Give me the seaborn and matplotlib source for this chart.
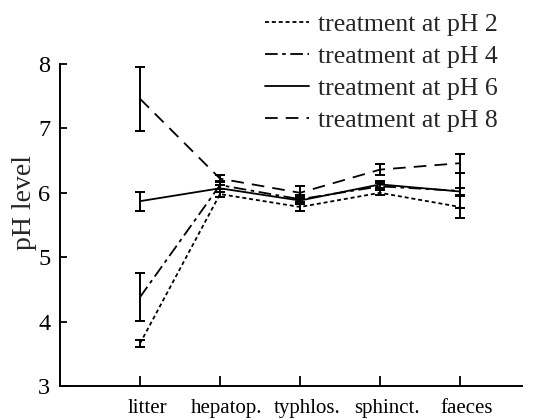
import numpy as np
import pandas as pd
import matplotlib
matplotlib.use("Agg")
import matplotlib.pyplot as plt
import matplotlib.transforms as mtransforms
import seaborn as sns

categories = ["litter", "hepatop.", "typhlos.", "sphinct.", "faeces"]
treatments = ["treatment at pH 2", "treatment at pH 4", "treatment at pH 6", "treatment at pH 8"]

ph2 = [3.66, 5.98, 5.78, 6.00, 5.78]
err2 = [0.05, 0.04, 0.07, 0.04, 0.17]
ph4 = [4.38, 6.12, 5.90, 6.10, 6.03]
err4 = [0.37, 0.06, 0.06, 0.05, 0.27]
ph6 = [5.87, 6.07, 5.88, 6.13, 6.02]
err6 = [0.15, 0.05, 0.05, 0.06, 0.05]
ph8 = [7.46, 6.22, 6.00, 6.36, 6.46]
err8 = [0.50, 0.05, 0.10, 0.08, 0.15]

yticks = [3, 4, 5, 6, 7, 8]

means = [ph2, ph4, ph6, ph8]
errs = [err2, err4, err6, err8]

rows = []
for t, m, e in zip(treatments, means, errs):
    for i, (c, v, ee) in enumerate(zip(categories, m, e)):
        rows.append({"pos": i, "organ": c, "treatment": t, "value": v, "err": ee})
df = pd.DataFrame(rows)

sns.set_style("ticks")
plt.rcParams["font.family"] = ["Liberation Serif", "DejaVu Serif"]

fig = plt.figure(figsize=(5.45, 4.2), dpi=100)
ax = fig.add_axes([60 / 545, 1 - 386 / 420, 462 / 545, 322 / 420])

dashes = {
    "treatment at pH 2": (2.2, 1.6),
    "treatment at pH 4": (7, 2.5, 2, 2.5),
    "treatment at pH 6": "",
    "treatment at pH 8": (7, 4.5),
}
sns.lineplot(data=df, x="pos", y="value", style="treatment", style_order=treatments,
             dashes=dashes, color="black", linewidth=1.3, errorbar=None, ax=ax,
             markers=False)

for t in treatments:
    sub = df[df["treatment"] == t]
    ax.errorbar(sub["pos"], sub["value"], yerr=sub["err"], fmt="none",
                ecolor="black", elinewidth=1.4, capsize=3.3, capthick=1.4)

ax.set_xlim(-1, 4.775)
ax.set_ylim(3, 8)
ax.set_yticks(yticks)
ax.set_yticklabels([str(v) for v in yticks], fontsize=17.5)
ax.set_xticks(range(len(categories)))
ax.set_xticklabels(categories, fontsize=15)

ax.tick_params(axis="y", direction="in", length=5, width=1.3, pad=7, colors="black")
ax.tick_params(axis="x", direction="in", length=7, width=1.3, pad=9.5, colors="black")
for s in ["top", "right"]:
    ax.spines[s].set_visible(False)
for s in ["left", "bottom"]:
    ax.spines[s].set_linewidth(1.4)
    ax.spines[s].set_color("black")

offset = mtransforms.ScaledTranslation(7 / 100, 0, fig.dpi_scale_trans)
for lab in ax.get_xticklabels():
    lab.set_transform(lab.get_transform() + offset)

ax.set_xlabel("")
ax.set_ylabel("pH level", fontsize=20)
ax.yaxis.set_label_coords(-0.05, 0.57)

handles, labels = ax.get_legend_handles_labels()
ax.legend(handles, labels, loc="upper left", bbox_to_anchor=(265 / 545, 0.968),
          bbox_transform=fig.transFigure, frameon=False, fontsize=18.5,
          handlelength=1.7, handletextpad=0.35, labelspacing=0.34,
          borderpad=0, borderaxespad=0)

fig.savefig("out.png", dpi=100)
